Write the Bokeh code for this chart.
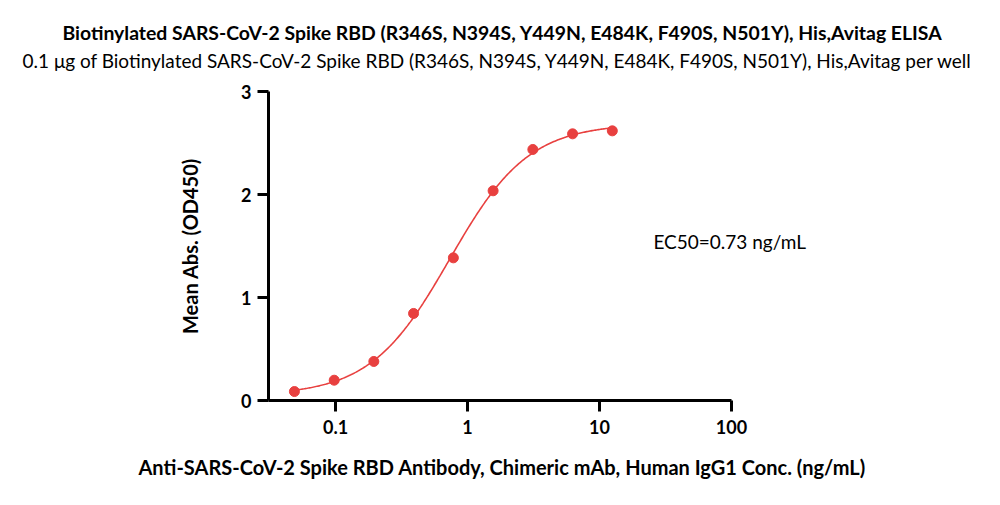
import numpy as np
from bokeh.plotting import figure
from bokeh.models import Range1d, FixedTicker, Title, Label
from bokeh.embed import file_html
from bokeh.resources import INLINE

# ---- data ----
title_main = "Biotinylated SARS-CoV-2 Spike RBD (R346S, N394S, Y449N, E484K, F490S, N501Y), His,Avitag ELISA"
title_sub = "0.1 \u03bcg of Biotinylated SARS-CoV-2 Spike RBD (R346S, N394S, Y449N, E484K, F490S, N501Y), His,Avitag per well"
x_label = "Anti-SARS-CoV-2 Spike RBD Antibody, Chimeric mAb, Human IgG1 Conc. (ng/mL)"
y_label = "Mean Abs. (OD450)"
conc = [0.0488, 0.0977, 0.195, 0.39, 0.781, 1.5625, 3.125, 6.25, 12.5]
od = [0.087, 0.197, 0.379, 0.845, 1.385, 2.036, 2.437, 2.589, 2.618]
ec50 = 0.73
ec50_text = "EC50=0.73 ng/mL"
x_ticks = [0.1, 1, 10, 100]
x_tick_labels = {0.1: "0.1", 1: "1", 10: "10", 100: "100"}
y_ticks = [0, 1, 2, 3]
x_axis_min = 10 ** -1.508
x_axis_max = 100

# ---- 4PL fit (EC50 fixed, bottom/top by least squares, hill by grid) ----
cx = np.array(conc)
cy = np.array(od)
best = None
for h in np.linspace(0.5, 3.0, 501):
    f = 1.0 / (1.0 + (ec50 / cx) ** h)
    A = np.vstack([1 - f, f]).T
    coef, *_ = np.linalg.lstsq(A, cy, rcond=None)
    err = np.sum((A @ coef - cy) ** 2)
    if best is None or err < best[0]:
        best = (err, h, coef)
_, hill, (bottom, top) = best
xs = np.logspace(np.log10(cx.min()), np.log10(cx.max()), 300)
ys = bottom + (top - bottom) / (1.0 + (ec50 / xs) ** hill)

RED = "#E8403F"
FONT = "Lato"

# frame extends past the axis end (axis bounds stop at 100) so the EC50 text is not clipped
LEFT, RIGHT, TOP, BOTTOM = 268, 150, 91, 105
decade_px = (731 - 268) / (np.log10(x_axis_max) - np.log10(x_axis_min))
frame_w = 1000 - LEFT - RIGHT
x_range_max = 10 ** (np.log10(x_axis_min) + frame_w / decade_px)

p = figure(width=1000, height=505, x_axis_type="log",
           x_range=Range1d(x_axis_min, x_range_max), y_range=Range1d(0, 3),
           output_backend="svg", toolbar_location=None,
           min_border_left=LEFT, min_border_right=RIGHT,
           min_border_top=TOP, min_border_bottom=BOTTOM)
p.outline_line_color = None
p.grid.visible = False
p.background_fill_color = "white"

# titles: left-aligned with offsets relative to the frame's left edge
p.title.text = title_main
p.title.align = "left"
p.title.offset = 62 - LEFT
p.title.text_font = FONT
p.title.text_font_size = "19.4px"
p.title.text_font_style = "bold"
p.title.text_color = "black"
p.title.standoff = 2
# empty spacer nearest the plot area, then the subtitle above it
p.add_layout(Title(text=" ", text_font=FONT, text_font_size="10px",
                   standoff=4), "above")
p.add_layout(Title(text=title_sub, align="left", offset=22 - LEFT, text_font=FONT,
                   text_font_size="19px", text_font_style="normal",
                   text_color="black", standoff=4), "above")

p.line(xs, ys, line_color=RED, line_width=1.6)
p.scatter(conc, od, size=10, fill_color=RED, line_color=RED)

p.add_layout(Label(x=25.6, y=1.545, x_units="data", y_units="data",
                   text=ec50_text, text_font=FONT, text_font_size="19px",
                   text_baseline="alphabetic", text_color="black"))

for ax in (p.xaxis[0], p.yaxis[0]):
    ax.axis_line_width = 3
    ax.axis_line_color = "black"
    ax.major_tick_line_width = 3
    ax.major_tick_line_color = "black"
    ax.major_tick_out = 11
    ax.major_tick_in = 0
    ax.minor_tick_line_color = None
    ax.major_label_text_font = FONT
    ax.major_label_text_font_style = "bold"
    ax.major_label_text_font_size = "18px"
    ax.major_label_text_color = "black"
    ax.axis_label_text_font = FONT
    ax.axis_label_text_font_style = "bold"
    ax.axis_label_text_font_size = "20px"
    ax.axis_label_text_color = "black"

p.xaxis.bounds = (x_axis_min, x_axis_max)
p.xaxis.ticker = FixedTicker(ticks=x_ticks)
p.xaxis.major_label_overrides = x_tick_labels
p.xaxis.major_label_standoff = 8
p.yaxis.ticker = FixedTicker(ticks=y_ticks)
p.yaxis.axis_label = y_label
p.yaxis.major_label_standoff = 6
p.yaxis.axis_label_standoff = 36

# x-axis title placed below the axis, aligned to the reference's position
p.add_layout(Title(text=x_label, align="left", offset=138 - LEFT, text_font=FONT,
                   text_font_size="20px", text_font_style="bold",
                   text_color="black", vertical_align="top", standoff=37), "below")

open("out.html", "w").write(file_html(p, INLINE))
